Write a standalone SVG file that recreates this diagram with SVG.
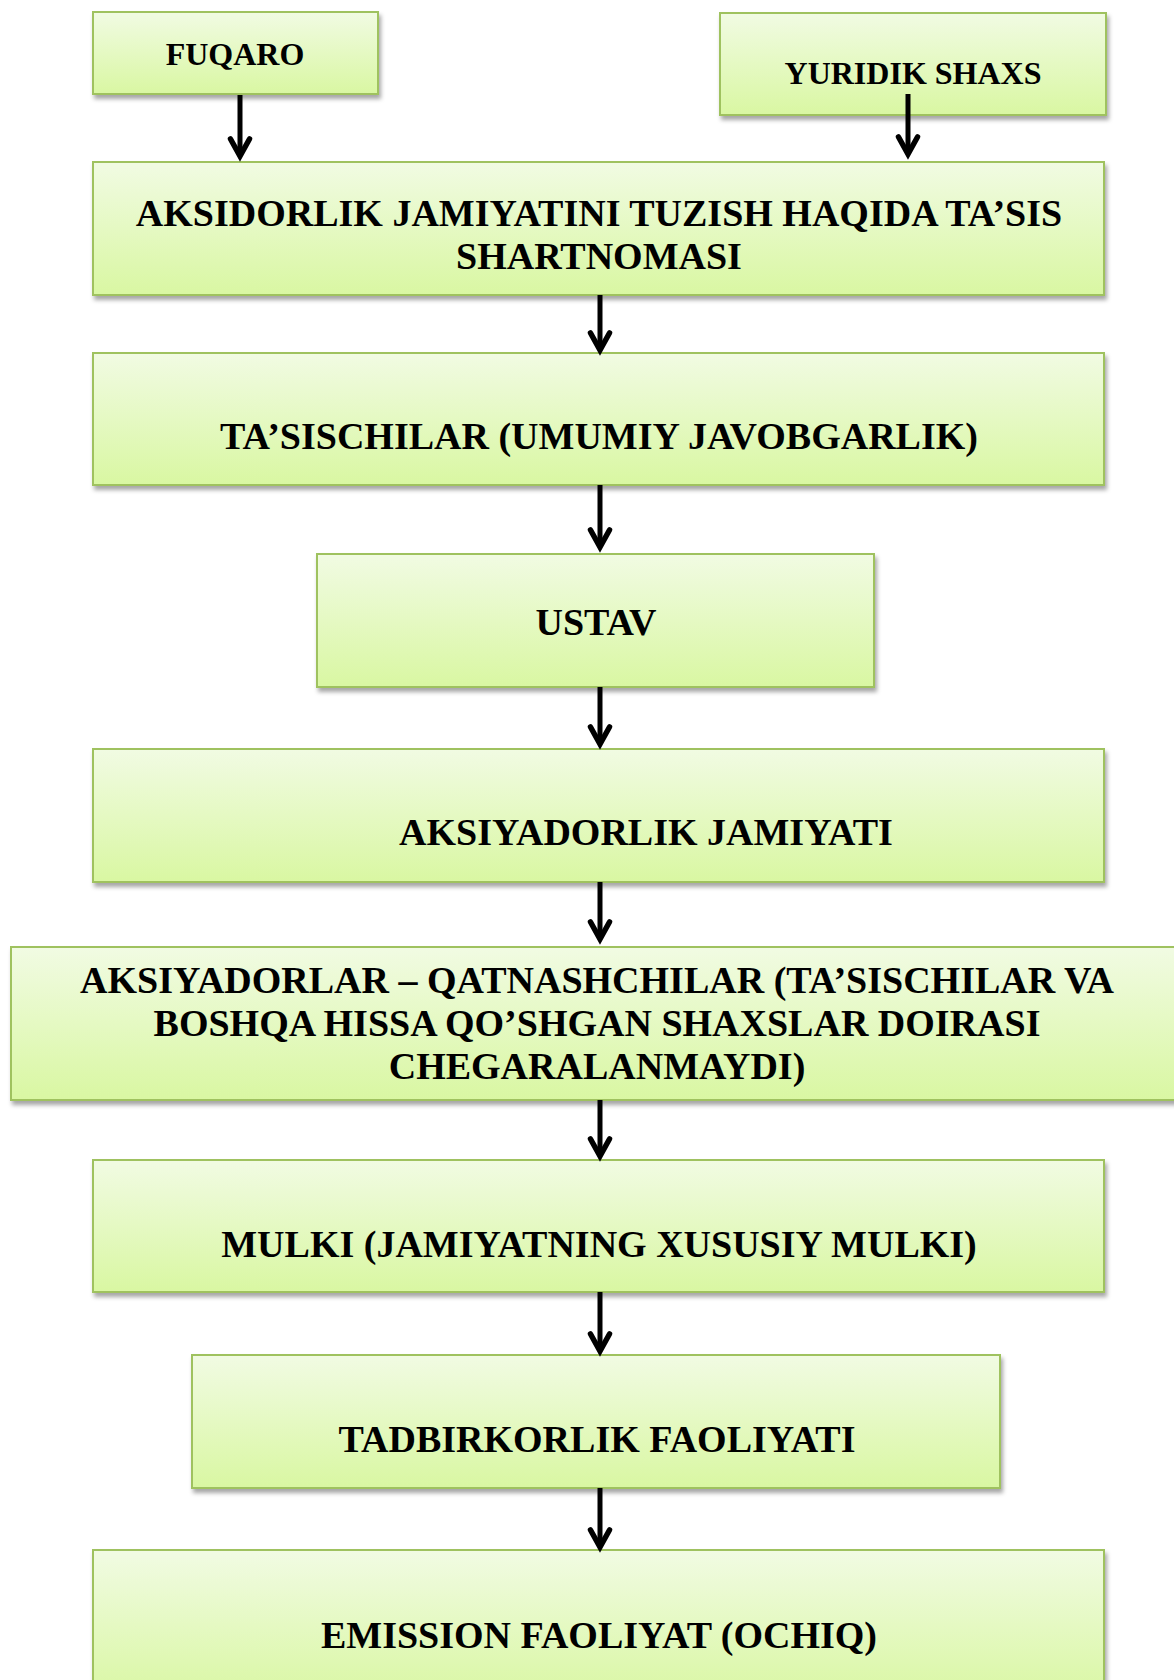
<svg xmlns="http://www.w3.org/2000/svg" width="1174" height="1680" viewBox="0 0 1174 1680">
<style>
.box{fill:url(#g);stroke:#9fc25e;stroke-width:2;filter:url(#sh)}
.t{font-family:"Liberation Serif","Times New Roman",serif;font-weight:bold;fill:#000;text-anchor:middle}
.big{font-size:38px}
.small{font-size:32px}
.c{stroke:#000;stroke-width:5;fill:none;marker-end:url(#ah)}
</style>
<defs>
<linearGradient id="g" x1="0" y1="0" x2="0" y2="1">
<stop offset="0" stop-color="#f1fbe3"/>
<stop offset="1" stop-color="#d9f7a2"/>
</linearGradient>
<filter id="sh" x="-5%" y="-10%" width="110%" height="130%">
<feDropShadow dx="2" dy="4" stdDeviation="2" flood-color="#000" flood-opacity="0.35"/>
</filter>
<marker id="ah" markerUnits="userSpaceOnUse" markerWidth="30" markerHeight="30" refX="20" refY="12" orient="auto" overflow="visible">
<path d="M3,2.5 L20,12 L3,21.5" fill="none" stroke="#000" stroke-width="5.5" stroke-linecap="round" stroke-linejoin="miter"/>
</marker>
</defs>

<g id="n-fuqaro"><rect class="box" x="93" y="12" width="285" height="82"/><text class="t small" x="235" y="65">FUQARO</text></g>
<g id="n-yuridik"><rect class="box" x="720" y="13" width="386" height="102"/><text class="t small" x="913" y="84">YURIDIK SHAXS</text></g>
<g id="n-shartnoma"><rect class="box" x="93" y="162" width="1011" height="133"/><text class="t big" x="599" y="226">AKSIDORLIK JAMIYATINI TUZISH HAQIDA TA’SIS</text><text class="t big" x="599" y="269">SHARTNOMASI</text></g>
<g id="n-tasischilar"><rect class="box" x="93" y="353" width="1011" height="132"/><text class="t big" x="599" y="449">TA’SISCHILAR (UMUMIY JAVOBGARLIK)</text></g>
<g id="n-ustav"><rect class="box" x="317" y="554" width="557" height="133"/><text class="t big" x="596" y="635">USTAV</text></g>
<g id="n-jamiyat"><rect class="box" x="93" y="749" width="1011" height="133"/><text class="t big" x="646" y="845">AKSIYADORLIK JAMIYATI</text></g>
<g id="n-aksiyadorlar"><rect class="box" x="11" y="947" width="1175" height="153"/><text class="t big" x="597" y="993">AKSIYADORLAR – QATNASHCHILAR (TA’SISCHILAR VA</text><text class="t big" x="597" y="1036">BOSHQA HISSA QO’SHGAN SHAXSLAR DOIRASI</text><text class="t big" x="597" y="1079">CHEGARALANMAYDI)</text></g>
<g id="n-mulki"><rect class="box" x="93" y="1160" width="1011" height="132"/><text class="t big" x="599" y="1257">MULKI (JAMIYATNING XUSUSIY MULKI)</text></g>
<g id="n-tadbirkorlik"><rect class="box" x="192" y="1355" width="808" height="133"/><text class="t big" x="597" y="1452">TADBIRKORLIK FAOLIYATI</text></g>
<g id="n-emission"><rect class="box" x="93" y="1550" width="1011" height="150"/><text class="t big" x="599" y="1648">EMISSION FAOLIYAT (OCHIQ)</text></g>

<g id="connectors">
<line class="c" x1="240" y1="95" x2="240" y2="156"/>
<line class="c" x1="908" y1="94" x2="908" y2="154"/>
<line class="c" x1="600" y1="295" x2="600" y2="350"/>
<line class="c" x1="600" y1="485" x2="600" y2="547"/>
<line class="c" x1="600" y1="687" x2="600" y2="744"/>
<line class="c" x1="600" y1="882" x2="600" y2="939"/>
<line class="c" x1="600" y1="1100" x2="600" y2="1156"/>
<line class="c" x1="600" y1="1292" x2="600" y2="1351"/>
<line class="c" x1="600" y1="1488" x2="600" y2="1547"/>
</g>
</svg>
